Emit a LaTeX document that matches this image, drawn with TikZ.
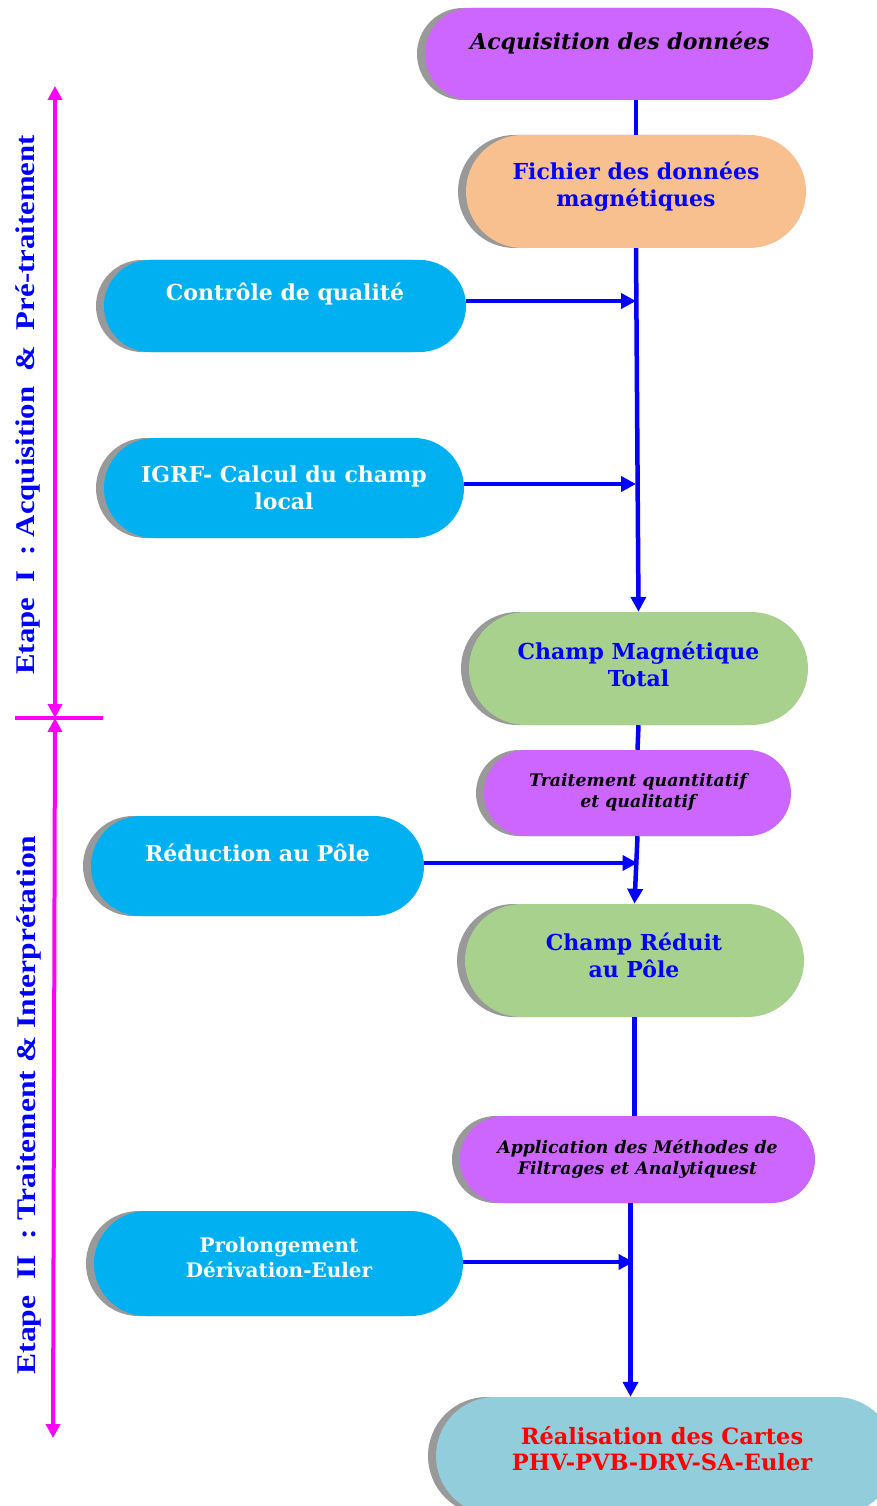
\documentclass[tikz,border=0pt]{standalone}
\usepackage{fontspec}
\setmainfont{DejaVu Serif}
\newfontfamily\tms{Liberation Serif}
\usetikzlibrary{arrows.meta,shadows,shapes.misc,calc}
\definecolor{cPurple}{HTML}{CC66FF}
\definecolor{cOrange}{HTML}{F9C08F}
\definecolor{cCyan}{HTML}{00B0F0}
\definecolor{cGreen}{HTML}{A9D18E}
\definecolor{cLight}{HTML}{92CDDC}
\definecolor{cShadow}{HTML}{999999}
\definecolor{cBlue}{HTML}{0000FF}
\definecolor{cMag}{HTML}{FF00FF}
\definecolor{cRed}{HTML}{FF0000}
\tikzset{
  pill/.style n args={3}{rounded rectangle, draw=none, fill=#1,
    minimum width=#2, minimum height=#3, inner sep=0pt,
    general shadow={fill=cShadow, shadow xshift=-8pt}},
  bigtxt/.style={align=center, font=\fontsize{22}{27}\selectfont\bfseries, inner sep=0pt},
  smalltxt/.style={align=center, font=\fontsize{17.3}{21}\selectfont\bfseries\itshape, inner sep=0pt},
  flow/.style={draw=cBlue, line width=4.5pt},
  flowarrow/.style={flow, -{Triangle[length=15pt,width=15pt]}},
  stage/.style={draw=cMag, line width=4pt, {Triangle[length=14pt,width=14pt]}-{Triangle[length=14pt,width=14pt]}},
  stagetxt/.style={rotate=90, text=cBlue, font=\tms\fontsize{27}{30}\selectfont\bfseries, inner sep=0pt}
}
\begin{document}
\begin{tikzpicture}[x=1pt,y=-1pt]
\useasboundingbox (0,0) rectangle (877,1506);
% shapes
\node[pill={cPurple}{388pt}{92pt}] (acq) at (619,54) {};
\node[pill={cOrange}{340pt}{113pt}] (fich) at (636,191.5) {};
\node[pill={cCyan}{362pt}{92pt}] (ctrl) at (285,306) {};
\node[pill={cCyan}{360pt}{100pt}] (igrf) at (284,488) {};
\node[pill={cGreen}{339pt}{113pt}] (cmt) at (638.5,668.5) {};
\node[pill={cPurple}{307pt}{86pt}] (trait) at (637.5,793) {};
\node[pill={cCyan}{333pt}{100pt}] (red) at (257.5,866) {};
\node[pill={cGreen}{339pt}{113pt}] (crp) at (634.5,960.5) {};
\node[pill={cPurple}{355pt}{87pt}] (app) at (637.5,1159.5) {};
\node[pill={cCyan}{369pt}{105pt}] (prol) at (278.5,1263.5) {};
\node[pill={cLight}{459pt}{118pt}] (real) at (665.5,1456) {};
% texts
\node[bigtxt, font=\fontsize{22}{27}\selectfont\bfseries\itshape, text=black] (acqT) at (620,43) {Acquisition des données};
\node[bigtxt, text=cBlue] (fichT) at (636,187) {Fichier des données\\magnétiques};
\node[bigtxt, text=white] (ctrlT) at (285,294) {Contrôle de qualité};
\node[bigtxt, text=white] (igrfT) at (284,488) {IGRF- Calcul du champ\\local};
\node[bigtxt, text=cBlue] (cmtT) at (638.5,664) {Champ Magnétique\\Total};
\node[smalltxt, text=black] (traitT) at (638,792) {Traitement quantitatif\\et qualitatif};
\node[bigtxt, text=white] (redT) at (257.5,853) {Réduction au Pôle};
\node[bigtxt, text=cBlue] (crpT) at (634,955) {Champ Réduit\\au Pôle};
\node[smalltxt, text=black] (appT) at (637.5,1159) {Application des Méthodes de\\Filtrages et Analytiquest};
\node[bigtxt, font=\fontsize{20}{25}\selectfont\bfseries, text=white] (prolT) at (279,1258) {Prolongement\\Dérivation-Euler};
\node[bigtxt, font=\fontsize{22.5}{26}\selectfont\bfseries, text=cRed] (realT) at (662,1449) {Réalisation des Cartes\\PHV-PVB-DRV-SA-Euler};
% connectors
\draw[flow] (fich.north) -- (fich.north |- acq.south);
\draw[flowarrow] (fich.south) -- (cmt.north);
\draw[flowarrow] ([yshift=5pt]ctrl.east) -- ([yshift=5pt]ctrl.east -| fich.south);
\draw[flowarrow] ([yshift=4pt]igrf.east) -- ([yshift=4pt]igrf.east -| fich.south);
\draw[flow] (cmt.south) -- (trait.north);
\draw[flowarrow] (trait.south) -- (crp.north);
\draw[flowarrow] ([yshift=3pt]red.east) -- ([yshift=3pt]red.east -| trait.south);
\draw[flow] (crp.south) -- (crp.south |- app.north);
\draw[flowarrow] ([xshift=-7pt]app.south) -- ([xshift=-7pt]app.south |- real.north);
\draw[flowarrow] ([yshift=1.5pt]prol.east) -- ([yshift=1.5pt,xshift=-4pt]prol.east -| app.south);
% stages
\coordinate (s1top) at (55,86);
\coordinate (smid) at (55,718);
\coordinate (s2bot) at (53,1438);
\coordinate (barL) at (15,718);
\coordinate (barR) at (103,718);
\draw[stage] (s1top) -- (smid);
\draw[stage] (smid) -- (s2bot);
\draw[draw=cMag, line width=4pt] (barL) -- (barR);
\node[stagetxt] (st1) at (28,405) {\scalebox{1.14}[1]{Etape\ \ I\ \ : Acquisition\ \ \&\ \ Pré-traitement}};
\node[stagetxt] (st2) at (29,1105) {\scalebox{1.17}[1]{Etape\ \ II\ \ : Traitement \& Interprétation}};
\end{tikzpicture}
\end{document}
